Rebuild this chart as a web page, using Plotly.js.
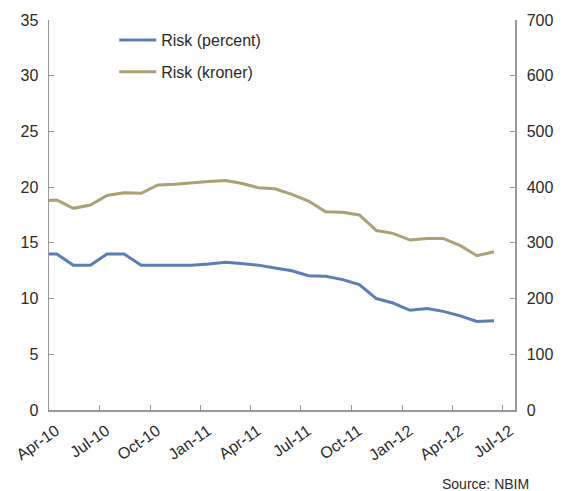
<!DOCTYPE html>
<html><head><meta charset="utf-8">
<script src="https://cdn.plot.ly/plotly-3.0.1.min.js"></script>
<style>html,body{margin:0;padding:0;background:#fff}</style>
</head><body><div id="chart" style="width:563px;height:491px"></div>
<script>
const dates = ["2010-04-01","2010-04-15","2010-05-15","2010-06-15","2010-07-15","2010-08-15","2010-09-15","2010-10-15","2010-11-15","2010-12-15","2011-01-15","2011-02-15","2011-03-15","2011-04-15","2011-05-15","2011-06-15","2011-07-15","2011-08-15","2011-09-15","2011-10-15","2011-11-15","2011-12-15","2012-01-15","2012-02-15","2012-03-15","2012-04-15","2012-05-15","2012-06-15"];
const riskPercent = [14.0,14.0,13.0,13.0,14.0,14.0,13.0,13.0,13.0,13.0,13.1,13.25,13.15,13.0,12.75,12.5,12.05,12.0,11.7,11.25,10.0,9.6,8.95,9.1,8.85,8.45,7.95,8.0];
const riskKroner = [376,377,362,368,385,390,389,404,405,408,410,412,407,399,397,387,375,356,355,350,322,317,305,308,308,295,277,284];
const tickDates = ["2010-04-01","2010-07-01","2010-10-01","2011-01-01","2011-04-01","2011-07-01","2011-10-01","2012-01-01","2012-04-01","2012-07-01"];
const tickLabels = ["Apr-10","Jul-10","Oct-10","Jan-11","Apr-11","Jul-11","Oct-11","Jan-12","Apr-12","Jul-12"];

const font = {family:"Liberation Sans, Arial, sans-serif", size:16, color:"#2a2a2a"};
const data = [
  {x:dates, y:riskPercent, name:"Risk (percent)", legendgroup:"a", type:"scatter", mode:"lines", line:{color:"#5b7fb5", width:3}, yaxis:"y"},
  {x:dates, y:riskKroner, name:"Risk (kroner)", legendgroup:"b", type:"scatter", mode:"lines", line:{color:"#aaa174", width:3}, yaxis:"y2"}
];
const axisCommon = {showgrid:false, zeroline:false, showline:true, linecolor:"#999", linewidth:1.5, ticks:"inside", ticklen:5, tickcolor:"#999", tickfont:font};
const layout = {
  width:563, height:491,
  margin:{l:49, r:48, t:20, b:81},
  paper_bgcolor:"#fff", plot_bgcolor:"#fff",
  showlegend:true,
  legend:{x:0.14, y:0.992, xanchor:"left", yanchor:"top", bgcolor:"rgba(0,0,0,0)", font:{family:font.family, size:16, color:"#2a2a2a"}, tracegroupgap:8, itemwidth:37},
  xaxis:Object.assign({}, axisCommon, {type:"date", range:["2010-04-01","2012-07-23"], tickmode:"array", tickvals:tickDates, ticktext:tickLabels, tickangle:-35, ticklabelstandoff:4, ticklabelshift:7}),
  yaxis:Object.assign({}, axisCommon, {range:[0,35], tickvals:[0,5,10,15,20,25,30,35], ticklabelstandoff:6}),
  yaxis2:Object.assign({}, axisCommon, {range:[0,700], overlaying:"y", side:"right", tickvals:[0,100,200,300,400,500,600,700], ticklabelstandoff:7}),
  annotations:[{text:"Source: NBIM", xref:"paper", yref:"paper", x:1.035, y:-0.19, xanchor:"right", yanchor:"middle", showarrow:false, font:{family:font.family, size:14, color:"#2a2a2a"}}]
};
Plotly.newPlot("chart", data, layout, {displayModeBar:false, staticPlot:true});
</script></body></html>
